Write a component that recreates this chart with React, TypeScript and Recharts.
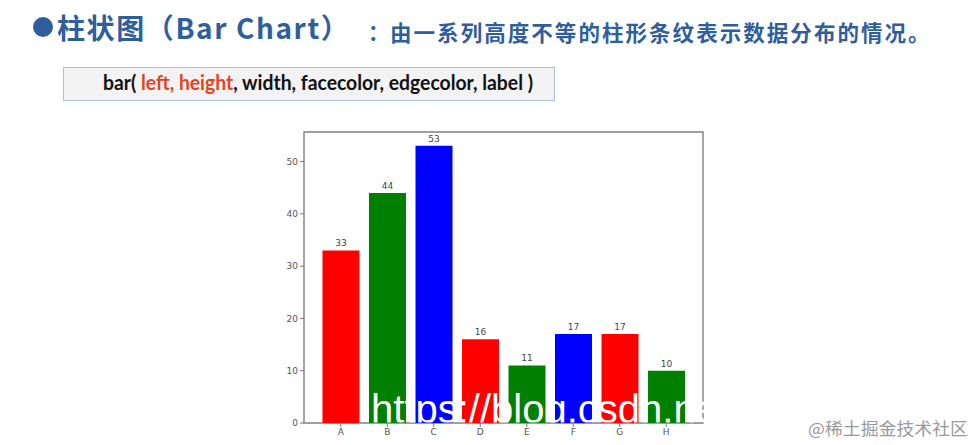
import React from 'react';
import { BarChart, Bar, XAxis, YAxis, Cell, LabelList, ReferenceArea } from 'recharts';

const categories = ['A', 'B', 'C', 'D', 'E', 'F', 'G', 'H'];
const values = [33, 44, 53, 16, 11, 17, 17, 10];
const barColors = ['#ff0000', '#008000', '#0000ff', '#ff0000', '#008000', '#0000ff', '#ff0000', '#008000'];
const xTicks = [0, 1, 2, 3, 4, 5, 6, 7];
const yTicks = [0, 10, 20, 30, 40, 50];
const xDomain: [number, number] = [-0.79, 7.79];
const yDomain: [number, number] = [0, 55.65];

const titleMain = '柱状图（Bar Chart）';
const titleSub = '由一系列高度不等的柱形条纹表示数据分布的情况。';
const watermarkUrl = 'https://blog.csdn.net';
const watermarkSite = '@稀土掘金技术社区';

const data = categories.map((c, i) => ({ x: i, name: c, value: values[i] }));

const TITLE_BLUE = '#2F5E9C';
const CJK = '"Noto Sans CJK SC", "Noto Sans", sans-serif';

export default function App() {
  return (
    <div style={{ position: 'absolute', left: 0, top: 0, width: 976, height: 445, background: '#fff', overflow: 'hidden' }}>
      <svg width={976} height={445} style={{ position: 'absolute', left: 0, top: 0 }}>
        <circle cx={43} cy={27} r={10} fill={TITLE_BLUE} />
        <text x={57} y={39} fontFamily={CJK} fontWeight={700} fontSize={28} fill={TITLE_BLUE} style={{ letterSpacing: '1.6px' }}>
          {titleMain}
        </text>
        <text x={368} y={40} fontFamily={CJK} fontWeight={700} fontSize={21} fill={TITLE_BLUE}>：</text>
        <text x={390} y={41} fontFamily={CJK} fontWeight={700} fontSize={21.5} fill={TITLE_BLUE} style={{ letterSpacing: '2.05px' }}>
          {titleSub}
        </text>
        <rect x={63.5} y={67.5} width={491} height={33} fill="#f3f3f3" stroke="#a8c2e0" strokeWidth={1} />
        <text x={103} y={90} fontFamily="Lato, sans-serif" fontWeight={700} fontSize={20.5} fill="#111" textLength={430} lengthAdjust="spacingAndGlyphs">
          <tspan>bar( </tspan>
          <tspan fill="#e8431e">left, height</tspan>
          <tspan>, width, facecolor, edgecolor, label )</tspan>
        </text>
      </svg>
      <div style={{ position: 'absolute', left: 254, top: 122 }}>
        <BarChart width={460} height={323} data={data} margin={{ top: 10, right: 11, bottom: 0, left: 0 }}>
          <XAxis
            type="number"
            dataKey="x"
            domain={xDomain}
            ticks={xTicks}
            allowDataOverflow
            tickFormatter={(v: number) => categories[v]}
            axisLine={false}
            tickLine={{ stroke: '#777' }}
            tickSize={4}
            height={22}
            tick={{ fontSize: 9, fill: '#555', fontFamily: '"DejaVu Sans", sans-serif' }}
          />
          <YAxis
            type="number"
            domain={yDomain}
            ticks={yTicks}
            allowDataOverflow
            axisLine={false}
            tickLine={{ stroke: '#777' }}
            tickSize={4}
            width={50}
            tick={{ fontSize: 9, fill: '#555', fontFamily: '"DejaVu Sans", sans-serif' }}
          />
          <Bar dataKey="value" barSize={37} isAnimationActive={false}>
            {data.map((d, i) => (
              <Cell key={d.name} fill={barColors[i]} />
            ))}
            <LabelList dataKey="value" position="top" offset={4} fontSize={9} fill="#444" fontFamily='"DejaVu Sans", sans-serif' />
          </Bar>
          <ReferenceArea x1={xDomain[0]} x2={xDomain[1]} y1={yDomain[0]} y2={yDomain[1]} fill="none" stroke="#808080" strokeWidth={1.4} ifOverflow="visible" />
        </BarChart>
      </div>
      <svg width={976} height={445} style={{ position: 'absolute', left: 0, top: 0, pointerEvents: 'none' }}>
        <defs>
          <clipPath id="wm-clip">
            <rect x={300} y={380} width={406} height={42.5} />
          </clipPath>
        </defs>
        <g clipPath="url(#wm-clip)">
          <text x={371} y={423} fontFamily='"Liberation Sans", Arial, sans-serif' fontSize={40} fill="#ffffff">
            {watermarkUrl}
          </text>
        </g>
        <text x={808} y={435} fontFamily={CJK} fontSize={17} fill="#9a9a9a" textLength={160} lengthAdjust="spacingAndGlyphs">
          {watermarkSite}
        </text>
      </svg>
    </div>
  );
}
